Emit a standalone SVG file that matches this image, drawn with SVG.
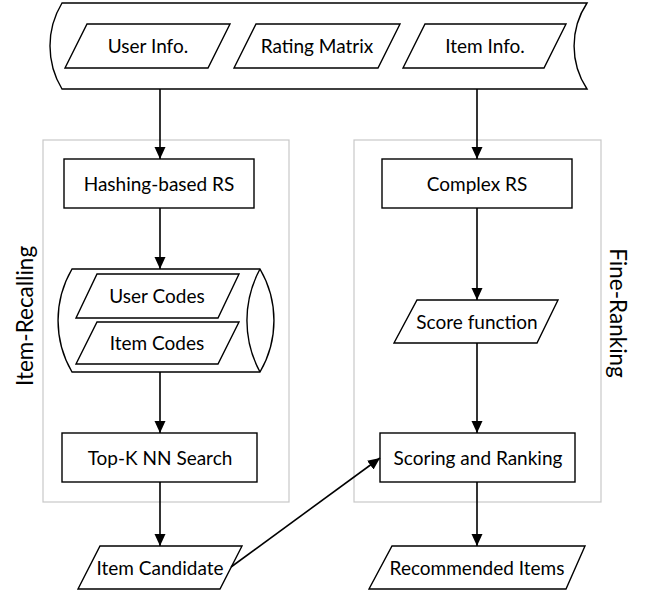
<svg xmlns="http://www.w3.org/2000/svg" width="647" height="597" viewBox="0 0 647 597">
<defs>
<marker id="ah" markerUnits="userSpaceOnUse" markerWidth="12" markerHeight="12" refX="12" refY="6" orient="auto">
<path d="M0,0.5 L12,6 L0,11.5 z" fill="#000"/>
</marker>
<style>
.s{fill:#fff;stroke:#000;stroke-width:1.4}
.c{fill:none;stroke:#c8c8c8;stroke-width:1.2}
.t{font-family:Lato,"Liberation Sans",sans-serif;font-size:19px;fill:#000;text-anchor:middle}
.l{font-family:Lato,"Liberation Sans",sans-serif;font-size:22.5px;fill:#000;text-anchor:middle}
.e{fill:none;stroke:#000;stroke-width:1.6;marker-end:url(#ah)}
</style>
</defs>
<rect width="647" height="597" fill="#fff"/>
<g id="item-recalling">
<rect class="c" x="43" y="140" width="246" height="362"/>
<text class="l" transform="translate(33,316) rotate(-90)">Item-Recalling</text>
</g>
<g id="fine-ranking">
<rect class="c" x="354" y="140" width="247" height="362"/>
<text class="l" transform="translate(610,313) rotate(90)">Fine-Ranking</text>
</g>
<g id="data-source">
<path class="s" d="M62,3 L587,3 A78,78 0 0 0 587,89 L62,89 A83,83 0 0 1 62,3 Z"/>
</g>
<g id="user-info">
<polygon class="s" points="87,24 230,24 208,68 65,68"/>
<text class="t" x="148" y="53">User Info.</text>
</g>
<g id="rating-matrix">
<polygon class="s" points="256,24 400,24 378,68 234,68"/>
<text class="t" x="317" y="53">Rating Matrix</text>
</g>
<g id="item-info">
<polygon class="s" points="425,24 566,24 544,68 403,68"/>
<text class="t" x="485" y="53">Item Info.</text>
</g>
<g id="hashing-rs">
<rect class="s" x="64" y="159" width="190" height="49"/>
<text class="t" x="159" y="190.5">Hashing-based RS</text>
</g>
<g id="codes-storage">
<path class="s" d="M72,269 L260,269 A102,102 0 0 1 260,372 L72,372 A102,102 0 0 1 72,269 Z"/>
<path class="s" d="M260,269 A108,108 0 0 0 260,372" fill="none"/>
</g>
<g id="user-codes">
<polygon class="s" points="97,274 239,274 218,318 76,318"/>
<text class="t" x="157" y="303">User Codes</text>
</g>
<g id="item-codes">
<polygon class="s" points="97,322 239,322 218,364 76,364"/>
<text class="t" x="157" y="350">Item Codes</text>
</g>
<g id="topk-search">
<rect class="s" x="62" y="433" width="195" height="49"/>
<text class="t" x="160" y="464.5">Top-K NN Search</text>
</g>
<g id="item-candidate">
<polygon class="s" points="100,546 242,546 220,589 78,589"/>
<text class="t" x="160" y="574.5">Item Candidate</text>
</g>
<g id="complex-rs">
<rect class="s" x="382" y="159" width="190" height="49"/>
<text class="t" x="477" y="190.5">Complex RS</text>
</g>
<g id="score-function">
<polygon class="s" points="417,300 558,300 537,343 394,343"/>
<text class="t" x="477" y="328.5">Score function</text>
</g>
<g id="scoring-ranking">
<rect class="s" x="380" y="433" width="195" height="49"/>
<text class="t" x="478" y="464.5">Scoring and Ranking</text>
</g>
<g id="recommended-items">
<polygon class="s" points="392,546 585,546 566,589 369,589"/>
<text class="t" x="477" y="574.5">Recommended Items</text>
</g>
<g id="connectors">
<line class="e" x1="160" y1="89" x2="160" y2="159"/>
<line class="e" x1="160" y1="208" x2="160" y2="269"/>
<line class="e" x1="160" y1="372" x2="160" y2="433"/>
<line class="e" x1="160" y1="482" x2="160" y2="546"/>
<line class="e" x1="477" y1="89" x2="477" y2="159"/>
<line class="e" x1="477" y1="208" x2="477" y2="300"/>
<line class="e" x1="477" y1="343" x2="477" y2="433"/>
<line class="e" x1="477" y1="482" x2="477" y2="546"/>
<line class="e" x1="231" y1="567" x2="380" y2="458"/>
</g>
</svg>
